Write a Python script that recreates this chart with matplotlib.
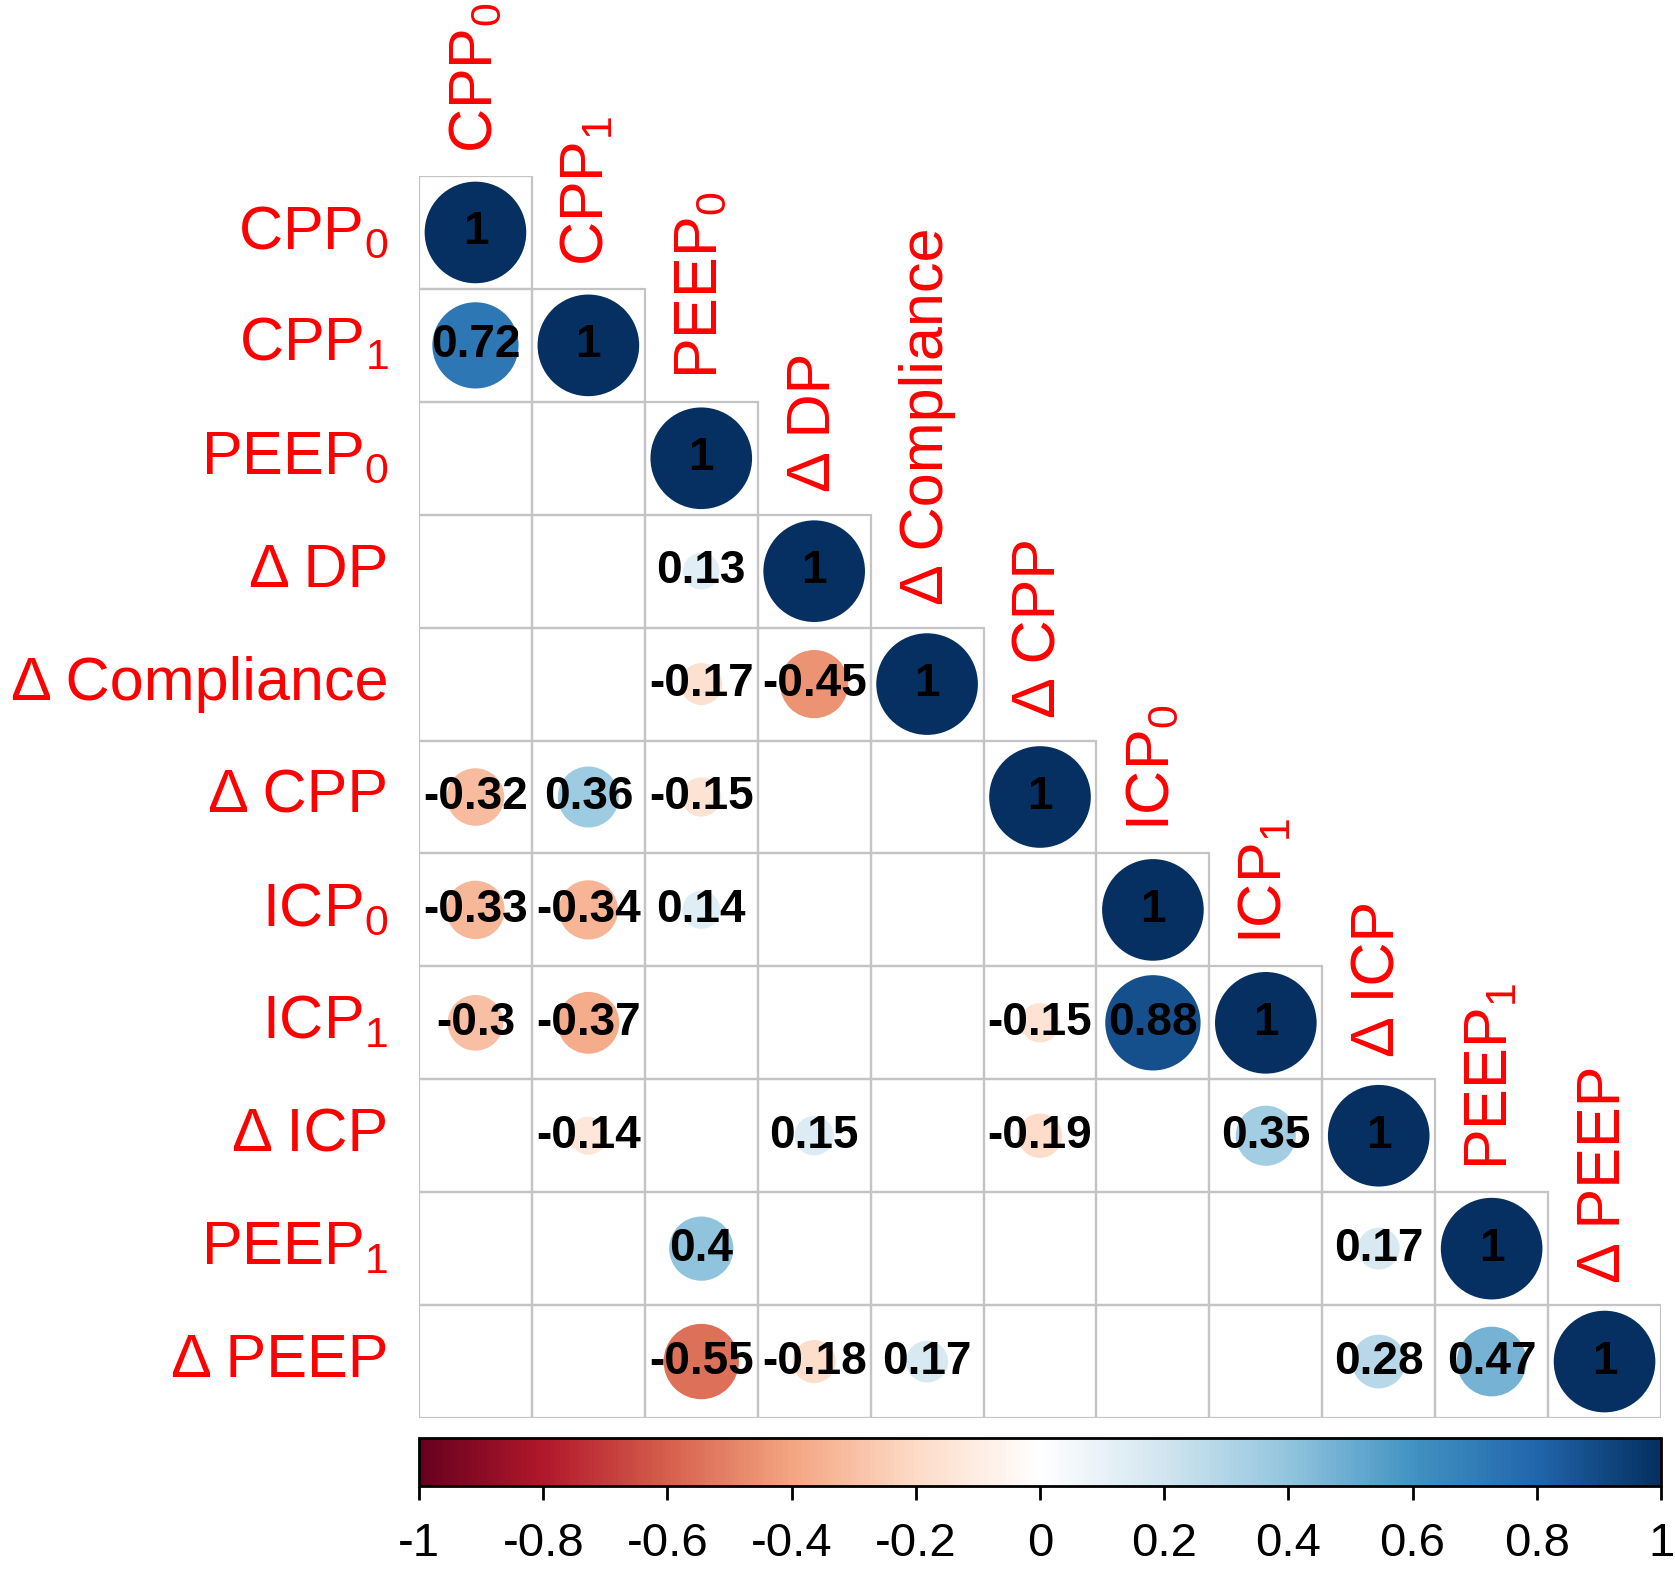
import matplotlib
matplotlib.use('Agg')  # no display

import numpy as np
import matplotlib.pyplot as plt
from matplotlib.colors import LinearSegmentedColormap, Normalize
from matplotlib.cm import ScalarMappable
from matplotlib.patches import Circle, Rectangle

plt.rcParams['font.family'] = ['Liberation Sans', 'DejaVu Sans']
plt.rcParams['mathtext.fontset'] = 'custom'
plt.rcParams['mathtext.rm'] = 'Liberation Sans'
plt.rcParams['mathtext.default'] = 'regular'

# variable names (rows top->bottom, columns left->right)
labels = ['CPP$_0$', 'CPP$_1$', 'PEEP$_0$', 'Δ DP', 'Δ Compliance', 'Δ CPP',
          'ICP$_0$', 'ICP$_1$', 'Δ ICP', 'PEEP$_1$', 'Δ PEEP']

# lower triangle of the correlation matrix, None = blank (not significant)
corr_rows = [
    [1],
    [0.72, 1],
    [None, None, 1],
    [None, None, 0.13, 1],
    [None, None, -0.17, -0.45, 1],
    [-0.32, 0.36, -0.15, None, None, 1],
    [-0.33, -0.34, 0.14, None, None, None, 1],
    [-0.3, -0.37, None, None, None, -0.15, 0.88, 1],
    [None, -0.14, None, 0.15, None, -0.19, None, 0.35, 1],
    [None, None, 0.4, None, None, None, None, None, 0.17, 1],
    [None, None, -0.55, -0.18, 0.17, None, None, None, 0.28, 0.47, 1],
]

cbar_ticks = [-1, -0.8, -0.6, -0.4, -0.2, 0, 0.2, 0.4, 0.6, 0.8, 1]
cbar_labels = ['-1', '-0.8', '-0.6', '-0.4', '-0.2', '0', '0.2', '0.4', '0.6', '0.8', '1']

# corrplot-like RdBu palette
cmap = LinearSegmentedColormap.from_list(
    'rdbu', ['#67001F', '#B2182B', '#D6604D', '#F4A582', '#FDDBC7', '#FFFFFF',
             '#D1E5F0', '#92C5DE', '#4393C3', '#2166AC', '#053061'])
norm = Normalize(-1, 1)

n = len(labels)
W, H = 1675, 1570
fig = plt.figure(figsize=(W / 100, H / 100), dpi=100)

gl, gb, gs = 419, 152, 1242
ax = fig.add_axes([gl / W, gb / H, gs / W, gs / H])
ax.set_xlim(0, n)
ax.set_ylim(n, 0)
ax.axis('off')

# cell grid
for i in range(n):
    for j in range(i + 1):
        ax.add_patch(Rectangle((j, i), 1, 1, fill=False, edgecolor='#c4c4c4',
                               linewidth=1.6, zorder=1))

# circles + numbers
for i, row in enumerate(corr_rows):
    for j, v in enumerate(row):
        if v is None:
            continue
        r = 0.45 * np.sqrt(abs(v))
        ax.add_patch(Circle((j + 0.5, i + 0.5), r, facecolor=cmap(norm(v)),
                            edgecolor='none', zorder=2))
        ax.text(j + 0.5, i + 0.5, f"{v:g}", ha='center', va='center',
                fontsize=33, fontweight='bold', color='black', zorder=3)

# labels
for k, lab in enumerate(labels):
    ax.text(-0.27, k + 0.5, lab, ha='right', va='center', fontsize=44,
            color='red', clip_on=False)
    ax.text(k + 0.5, k - 0.2, lab, ha='center', va='bottom', rotation=90,
            fontsize=44, color='red', clip_on=False)

# colour bar
cax = fig.add_axes([gl / W, 84 / H, 1242 / W, 48 / H])
sm = ScalarMappable(norm=norm, cmap=cmap)
cb = fig.colorbar(sm, cax=cax, orientation='horizontal', ticks=cbar_ticks)
cb.ax.set_xticklabels(cbar_labels)
cb.ax.tick_params(labelsize=34, length=10, width=2, pad=16, direction='out')
cb.outline.set_linewidth(2)

fig.savefig('out.png', dpi=100)
